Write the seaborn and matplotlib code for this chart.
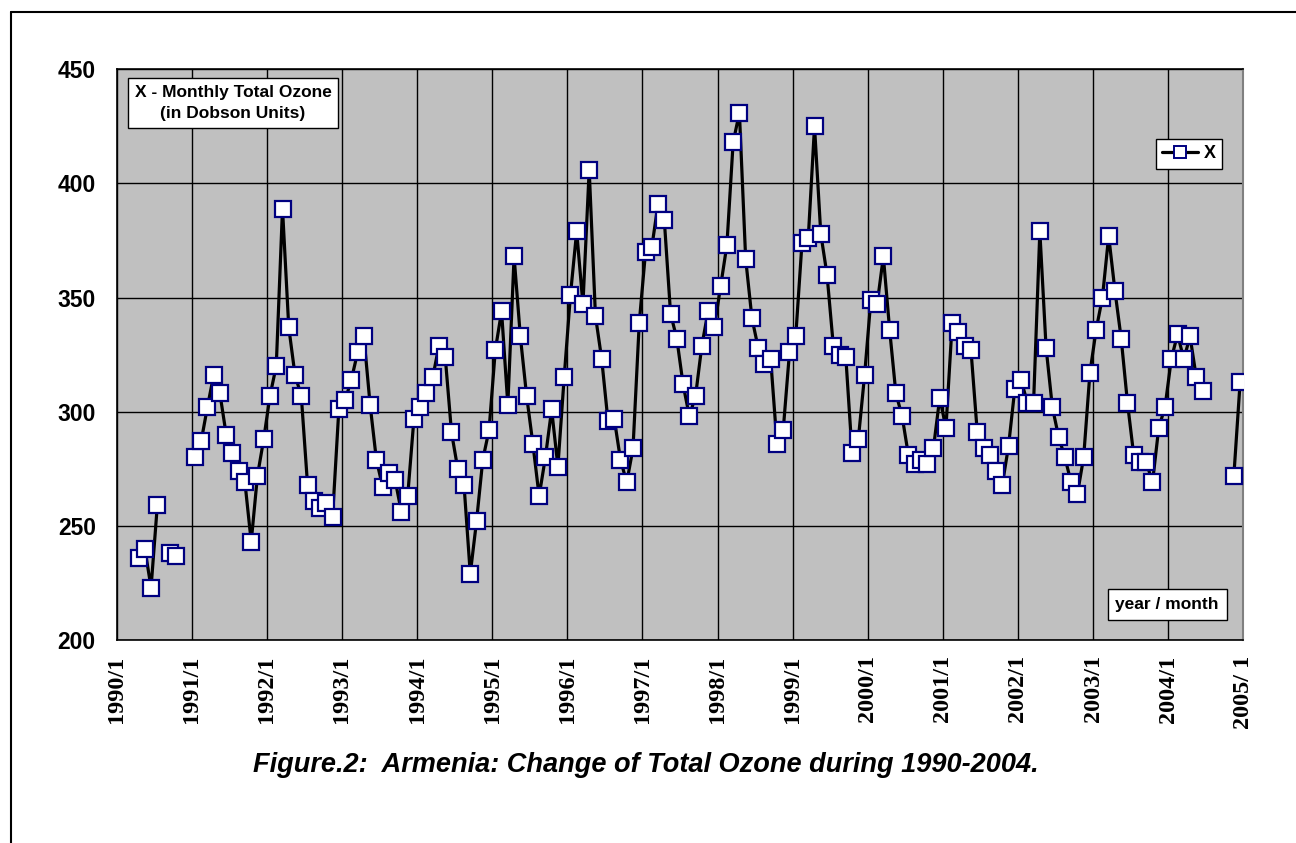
"""
Monthly total ozone over Armenia, 1990-2004 (Excel-style line chart).
"""
import matplotlib
matplotlib.use("Agg")
import matplotlib.pyplot as plt
from matplotlib.lines import Line2D
import numpy as np
import pandas as pd
import seaborn as sns

nan = np.nan

# monthly total ozone (Dobson Units), Jan..Dec, NaN = no measurement
ozone_1990 = [nan, nan, nan, 236, 240, 223, 259, nan, 238, 237, nan, nan]
ozone_1991 = [280, 287, 302, 316, 308, 290, 282, 274, 269, 243, 272, 288]
ozone_1992 = [307, 320, 389, 337, 316, 307, 268, 261, 258, 260, 254, 301]
ozone_1993 = [305, 314, 326, 333, 303, 279, 267, 273, 270, 256, 263, 297]
ozone_1994 = [302, 308, 315, 329, 324, 291, 275, 268, 229, 252, 279, 292]
ozone_1995 = [327, 344, 303, 368, 333, 307, 286, 263, 280, 301, 276, 315]
ozone_1996 = [351, 379, 347, 406, 342, 323, 296, 297, 279, 269, 284, 339]
ozone_1997 = [370, 372, 391, 384, 343, 332, 312, 298, 307, 329, 344, 337]
ozone_1998 = [355, 373, 418, 431, 367, 341, 328, 321, 323, 286, 292, 326]
ozone_1999 = [333, 374, 376, 425, 378, 360, 329, 325, 324, 282, 288, 316]
ozone_2000 = [349, 347, 368, 336, 308, 298, 281, 277, 279, 277, 284, 306]
ozone_2001 = [293, 339, 335, 329, 327, 291, 284, 281, 274, 268, 285, 310]
ozone_2002 = [314, 304, 304, 379, 328, 302, 289, 280, 269, 264, 280, 317]
ozone_2003 = [336, 350, 377, 353, 332, 304, 281, 278, 278, 269, 293, 302]
ozone_2004 = [323, 334, 323, 333, 315, 309, nan, nan, nan, nan, 272, 313]

years = list(range(1990, 2005))
tick_labels = [f"{y}/1" for y in years] + ["2005/ 1"]
y_ticks = [200, 250, 300, 350, 400, 450]

GREY = "#C0C0C0"
NAVY = "#000080"


def build_frame():
    values = np.concatenate([ozone_1990, ozone_1991, ozone_1992, ozone_1993,
                             ozone_1994, ozone_1995, ozone_1996, ozone_1997,
                             ozone_1998, ozone_1999, ozone_2000, ozone_2001,
                             ozone_2002, ozone_2003, ozone_2004])
    df = pd.DataFrame({"pos": np.arange(len(values)) + 0.5, "ozone": values})
    # break the line at missing months: one unit per contiguous run
    df["seg"] = df["ozone"].isna().cumsum()
    return df.dropna()


def main():
    sns.set_style("white")
    plt.rcParams["font.family"] = ["Liberation Sans", "DejaVu Sans"]
    plt.rcParams["text.color"] = "black"
    plt.rcParams["xtick.color"] = "black"
    plt.rcParams["ytick.color"] = "black"
    plt.rcParams["axes.labelcolor"] = "black"

    df = build_frame()

    fig = plt.figure(figsize=(12.96, 8.43), dpi=100)
    ax = fig.add_axes([0.090, 0.2408, 0.8693, 0.677])
    ax.set_facecolor(GREY)

    sns.lineplot(data=df, x="pos", y="ozone", units="seg", estimator=None,
                 color="black", lw=2.3, marker="s", markersize=11,
                 markerfacecolor="white", markeredgecolor=NAVY,
                 markeredgewidth=1.6, ax=ax, legend=False, zorder=3)

    ax.set_xlim(0, 180)
    ax.set_ylim(200, 450)
    ax.set_xticks(np.arange(0, 181, 12))
    ax.set_xticklabels(tick_labels, rotation=90, fontfamily="Liberation Serif",
                       fontweight="bold", fontsize=17.5)
    ax.set_yticks(y_ticks)
    ax.set_yticklabels([str(v) for v in y_ticks], fontweight="bold",
                       fontsize=16.5)
    ax.tick_params(axis="x", direction="out", length=7, width=1, pad=4)
    ax.tick_params(axis="y", direction="out", length=7, width=1, pad=8)
    ax.grid(True, color="black", lw=1)
    ax.set_axisbelow(True)
    ax.set_xlabel("")
    ax.set_ylabel("")
    for side in ["left", "bottom", "top"]:
        ax.spines[side].set_color("black")
        ax.spines[side].set_linewidth(1.2)
    ax.spines["right"].set_color("#808080")
    ax.spines["right"].set_linewidth(1.5)

    # info boxes
    ax.text(0.0160, 0.9725, "X - Monthly Total Ozone\n(in Dobson Units)",
            transform=ax.transAxes, ha="left", va="top", fontsize=12.5,
            fontweight="bold", linespacing=1.5, multialignment="center",
            bbox=dict(boxstyle="square,pad=0.4", fc="white", ec="black", lw=1))
    ax.text(0.9784, 0.049, "year / month", transform=ax.transAxes,
            ha="right", va="bottom", fontsize=12.5, fontweight="bold",
            bbox=dict(boxstyle="square,pad=0.45", fc="white", ec="black", lw=1))

    handle = Line2D([], [], color="black", lw=2.3, marker="s", markersize=9,
                    markerfacecolor="white", markeredgecolor=NAVY,
                    markeredgewidth=1.4)
    leg = fig.legend([handle], ["X"], loc="upper left",
                     bbox_to_anchor=(1156 / 1296, 1 - 139 / 843),
                     frameon=True, fancybox=False, framealpha=1,
                     edgecolor="black", handlelength=2.0, handletextpad=0.3,
                     borderpad=0.35, borderaxespad=0,
                     prop={"weight": "bold", "size": 13})
    leg.get_frame().set_linewidth(1)

    fig.text(646 / 1296, 1 - 765 / 843,
             "Figure.2:  Armenia: Change of Total Ozone during 1990-2004.",
             ha="center", va="center", fontsize=19.5, fontweight="bold",
             fontstyle="italic")

    # outer chart-area frame (cropped at right and bottom)
    fx, fy = 11 / 1296, 1 - 12 / 843
    fig.add_artist(Line2D([fx, fx], [0, fy], color="black", lw=1.5,
                          transform=fig.transFigure))
    fig.add_artist(Line2D([fx, 1], [fy, fy], color="black", lw=1.5,
                          transform=fig.transFigure))

    fig.savefig("out.png", dpi=100)
    plt.close(fig)


if __name__ == "__main__":
    main()
